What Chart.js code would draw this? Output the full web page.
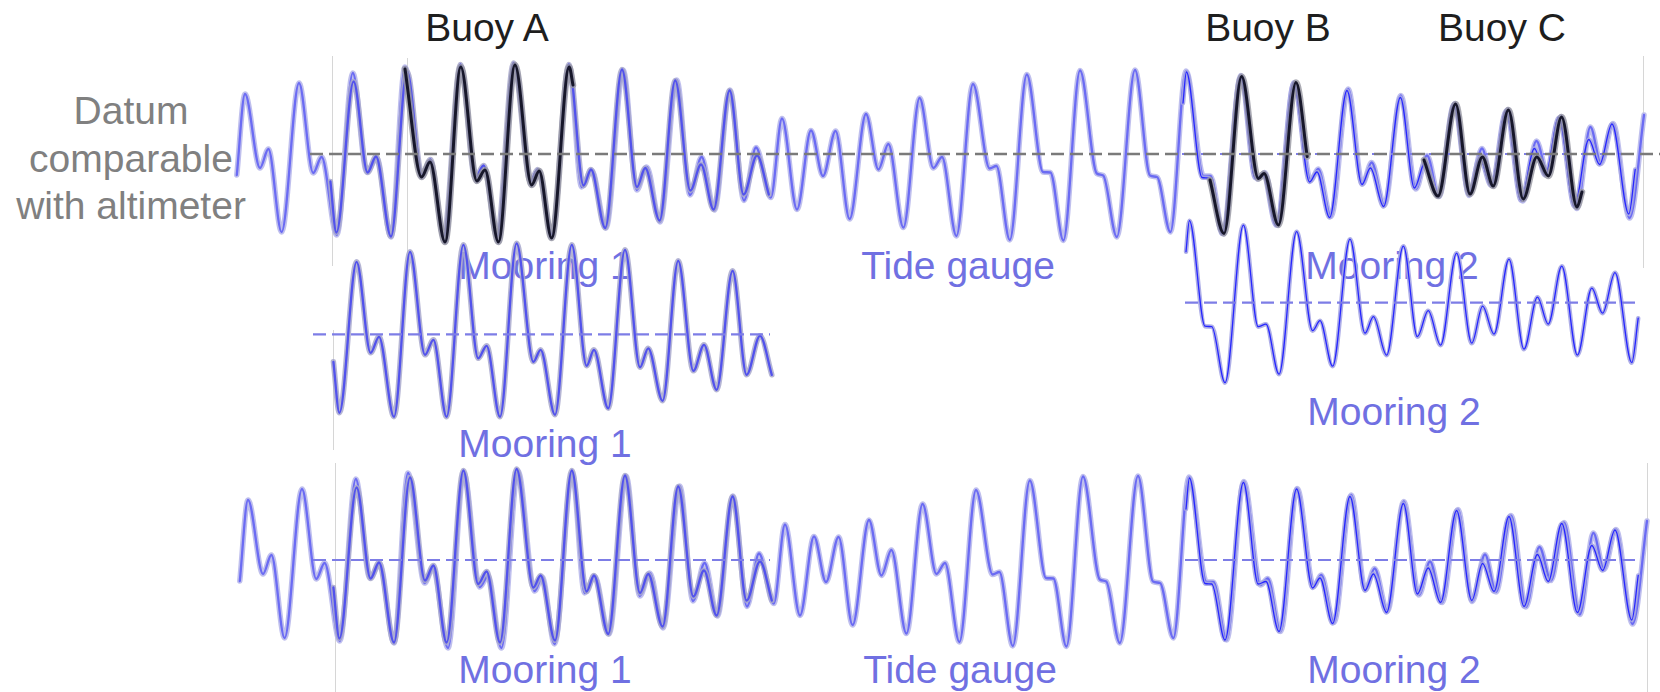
<!DOCTYPE html>
<html>
<head>
<meta charset="utf-8">
<script src="https://cdn.jsdelivr.net/npm/chart.js@4.4.1/dist/chart.umd.min.js"></script>
<style>
  html, body { margin: 0; padding: 0; background: #ffffff; }
  #wrap { position: relative; width: 1660px; height: 692px; overflow: hidden;
          font-family: "Liberation Sans", Arial, Helvetica, sans-serif; }
  #plot { position: absolute; left: 0; top: 0; z-index: 2; }
  .lbl { position: absolute; font-size: 39px; line-height: 39px; white-space: nowrap;
         transform: translateX(-50%); z-index: 1; }
  .buoy { color: #1e1e1e; }
  .inst { color: #7070e2; }
  .datum { color: #808080; text-align: center; line-height: 47.5px; }
  .edge { position: absolute; width: 1px; background: #d6d6d6; z-index: 0; }
</style>
</head>
<body>
<div id="wrap">
  <div class="edge" style="left:332px;top:56px;height:210px"></div>
  <div class="edge" style="left:407px;top:58px;height:200px"></div>
  <div class="edge" style="left:333px;top:330px;height:120px"></div>
  <div class="edge" style="left:1643px;top:56px;height:212px"></div>
  <div class="edge" style="left:335px;top:463px;height:229px"></div>
  <div class="edge" style="left:1647px;top:463px;height:229px"></div>

  <div class="lbl buoy" style="left:487px;top:8px">Buoy A</div>
  <div class="lbl buoy" style="left:1268px;top:8px">Buoy B</div>
  <div class="lbl buoy" style="left:1502px;top:8px">Buoy C</div>
  <div class="lbl datum" style="left:131px;top:87px">Datum<br>comparable<br>with altimeter</div>

  <div class="lbl inst" style="left:545px;top:246px">Mooring 1</div>
  <div class="lbl inst" style="left:958px;top:246px">Tide gauge</div>
  <div class="lbl inst" style="left:1392px;top:246px">Mooring 2</div>

  <div class="lbl inst" style="left:545px;top:424px">Mooring 1</div>
  <div class="lbl inst" style="left:1394px;top:392px">Mooring 2</div>

  <div class="lbl inst" style="left:545px;top:650px">Mooring 1</div>
  <div class="lbl inst" style="left:960px;top:650px">Tide gauge</div>
  <div class="lbl inst" style="left:1394px;top:650px">Mooring 2</div>

  <canvas id="plot" width="1660" height="692"></canvas>
</div>
<script>
// Sea level records: [time (h), level (m)] at turning points of the tide curve.
const tideGauge = [
  [0.2,-0.42],[2.25,1.20],[6.0,-0.28],[8.1,0.10],[11.4,-1.56],[15.75,1.42],[19.3,-0.38],[21.4,-0.06],
  [25.2,-1.62],[29.2,1.62],[32.7,-0.36],[35.2,-0.08],[38.75,-1.66],[42.25,1.74],[46.4,-0.46],[48.5,-0.16],
  [52.25,-1.76],[56.2,1.74],[60.2,-0.54],[62.25,-0.32],[65.6,-1.76],[69.75,1.78],[73.9,-0.62],[75.8,-0.34],
  [78.9,-1.68],[83.3,1.74],[86.4,-0.66],[88.9,-0.32],[92.5,-1.48],[96.8,1.68],[100.2,-0.72],[102.7,-0.26],
  [106.0,-1.36],[110.2,1.48],[113.5,-0.82],[116.4,-0.06],[119.6,-1.12],[123.5,1.28],[127.0,-0.93],[130.0,0.13],
  [133.7,-0.87],[136.5,0.71],[140.25,-1.11],[143.75,0.47],[146.75,-0.44],[149.9,0.46],[153.4,-1.30],[157.5,0.80],
  [160.6,-0.31],[163.1,0.20],[166.85,-1.47],[170.9,1.12],[174.35,-0.28],[176.5,-0.06],[180.1,-1.64],[184.25,1.40],
  [188.4,-0.29],[190.1,-0.24],[193.45,-1.72],[197.7,1.59],[201.75,-0.36],[203.6,-0.37],[206.85,-1.73],[211.0,1.67],
  [215.2,-0.39],[216.8,-0.43],[220.2,-1.66],[224.75,1.68],[228.5,-0.43],[230.25,-0.46],[233.6,-1.56],[237.5,1.66],
  [241.9,-0.44],[243.6,-0.44],[246.9,-1.60],[251.2,1.57],[255.4,-0.50],[257.2,-0.37],[260.4,-1.43],[264.55,1.43],
  [268.7,-0.53],[270.55,-0.30],[273.75,-1.25],[278.05,1.30],[281.6,-0.60],[283.9,-0.17],[287.1,-1.02],[291.2,1.17],
  [295.0,-0.70],[297.75,-0.03],[300.75,-0.85],[304.75,1.01],[308.3,-0.83],[311.5,0.11],[314.25,-0.64],[318.0,0.89],
  [321.75,-0.94],[325.1,0.26],[328.0,-0.41],[331.25,0.75],[335.2,-1.09],[338.6,0.54],[341.25,-0.19],[344.25,0.61],
  [348.4,-1.28],[352.0,0.78]
];

const mooring1 = [
  [23.6,-0.55],[25.1,-1.57],[29.4,1.45],[32.9,-0.37],[35.0,-0.05],[38.75,-1.65],[42.75,1.65],[46.5,-0.41],
  [48.6,-0.11],[51.9,-1.65],[56.1,1.79],[59.8,-0.48],[61.9,-0.23],[65.25,-1.65],[69.4,1.82],[73.6,-0.55],
  [75.4,-0.31],[79.0,-1.61],[83.2,1.79],[86.9,-0.63],[88.75,-0.31],[92.3,-1.48],[96.5,1.69],[100.25,-0.66],
  [102.3,-0.28],[105.9,-1.33],[109.8,1.47],[113.6,-0.73],[116.25,-0.21],[119.4,-1.11],[123.4,1.27],[126.9,-0.81],
  [130.25,-0.03],[133.2,-0.81]
];

const mooring2 = [
  [236.75,1.02],[237.6,1.64],[241.5,-0.47],[243.2,-0.48],[246.5,-1.60],[251.1,1.55],[254.8,-0.48],[256.75,-0.43],
  [260.0,-1.43],[264.4,1.42],[268.4,-0.56],[270.25,-0.36],[273.4,-1.27],[277.75,1.27],[281.5,-0.61],[283.6,-0.28],
  [286.9,-1.05],[291.1,1.13],[294.6,-0.68],[297.3,-0.16],[300.4,-0.85],[304.4,0.99],[308.2,-0.81],[310.9,-0.07],
  [313.75,-0.63],[317.5,0.87],[321.25,-0.93],[324.6,0.11],[327.3,-0.43],[330.7,0.73],[334.6,-1.05],[338.2,0.29],
  [340.9,-0.21],[344.0,0.60],[348.2,-1.20],[349.8,-0.31]
];

const buoyA = [
  [42.25,1.70],[46.4,-0.46],[48.5,-0.16],[52.25,-1.76],[56.2,1.74],[60.2,-0.54],[62.25,-0.32],[65.6,-1.76],
  [69.75,1.78],[73.9,-0.62],[75.8,-0.34],[78.9,-1.68],[83.3,1.74],[84.25,1.38]
];

const buoyB = [
  [243.5,-0.52],[247.0,-1.59],[251.4,1.55],[255.6,-0.49],[257.0,-0.39],[260.6,-1.42],[265.0,1.43],[267.8,-0.05]
];

const buoyC = [
  [297.0,-0.12],[300.5,-0.84],[304.9,1.00],[308.5,-0.80],[311.6,-0.06],[314.3,-0.64],[318.1,0.88],[321.8,-0.90],
  [325.2,-0.06],[328.1,-0.44],[331.4,0.74],[335.25,-1.06],[336.5,-0.76]
];

// Time spans (h) of the datum reference lines, drawn at level 0.
const altimeterDatumSpan = [18.5, 356];
const mooring1DatumSpan = [18.5, 132.75];
const mooring2DatumSpan = [236.5, 349.75];

const toPoints = rows => rows.map(([t, v]) => ({ x: t, y: v }));
const spanPoints = span => [{ x: span[0], y: 0 }, { x: span[1], y: 0 }];

const STYLE = {
  gauge:  { color: '#6b6bf3', width: 2.3, halo: 'rgba(188,188,236,0.95)', haloWidth: 5.5 },
  moor1:  { color: '#5252ec', width: 2.3, halo: 'rgba(168,168,205,0.85)', haloWidth: 5.5 },
  moor2:  { color: '#2626ff', width: 1.3, halo: 'rgba(165,165,228,0.9)', haloWidth: 4.5 },
  buoy:   { color: '#17172a', width: 3.0, halo: 'rgba(150,150,160,0.8)', haloWidth: 6.5 }
};

const layers = [];   // listed from bottom to top

function addWave(rows, style, xAxisID, yAxisID) {
  const data = toPoints(rows);
  const common = { data, xAxisID, yAxisID, pointRadius: 0, fill: false,
                   cubicInterpolationMode: 'monotone', borderJoinStyle: 'round', borderCapStyle: 'round' };
  layers.push(Object.assign({}, common, { borderColor: style.halo, borderWidth: style.haloWidth }));
  layers.push(Object.assign({}, common, { borderColor: style.color, borderWidth: style.width }));
}

function addDatum(span, color, width, xAxisID, yAxisID) {
  layers.push({ data: spanPoints(span), xAxisID, yAxisID, pointRadius: 0, fill: false, tension: 0,
                borderColor: color, borderWidth: width, borderDash: [13, 6] });
}

// Upper panel: everything referred to the altimeter datum
addWave(tideGauge, STYLE.gauge, 'x', 'yTop');
addWave(mooring1, STYLE.moor1, 'x', 'yTop');
addWave(mooring2, STYLE.moor2, 'x', 'yTop');
addWave(buoyA, STYLE.buoy, 'x', 'yTop');
addWave(buoyB, STYLE.buoy, 'x', 'yTop');
addWave(buoyC, STYLE.buoy, 'x', 'yTop');
addDatum(mooring1DatumSpan, '#7d7de6', 2, 'x', 'yTop');
addDatum(mooring2DatumSpan, '#7d7de6', 2, 'x', 'yTop');
addDatum(altimeterDatumSpan, '#7a7a7a', 2.6, 'x', 'yTop');

// Middle panel: moorings on their own datums
addWave(mooring1, STYLE.moor1, 'x2', 'yMid1');
addWave(mooring2, STYLE.moor2, 'x2', 'yMid2');
addDatum(mooring1DatumSpan, '#7d7de6', 2.2, 'x2', 'yMid1');
addDatum(mooring2DatumSpan, '#7d7de6', 2.2, 'x2', 'yMid2');

// Lower panel: moorings joined to the tide gauge
addWave(tideGauge, STYLE.gauge, 'x2', 'yBot');
addWave(mooring1, STYLE.moor1, 'x2', 'yBot');
addWave(mooring2, STYLE.moor2, 'x2', 'yBot');
addDatum(mooring1DatumSpan, '#7d7de6', 2.2, 'x2', 'yBot');
addDatum(mooring2DatumSpan, '#7d7de6', 2.2, 'x2', 'yBot');

// lower `order` is painted last (on top)
layers.forEach((ds, i) => { ds.order = layers.length - i; });

const hidden = { display: false, grid: { display: false } };

new Chart(document.getElementById('plot'), {
  type: 'line',
  data: { datasets: layers },
  options: {
    responsive: false,
    animation: false,
    devicePixelRatio: 1,
    layout: { padding: 0 },
    plugins: { legend: { display: false }, tooltip: { enabled: false }, title: { display: false } },
    events: [],
    scales: {
      x:     Object.assign({ type: 'linear', min: -59, max: 356 }, hidden),
      x2:    Object.assign({ type: 'linear', min: -59.75, max: 355.25 }, hidden),
      yTop:  Object.assign({ type: 'linear', min: -10.76, max: 3.08 }, hidden),
      yMid1: Object.assign({ type: 'linear', min: -7.154, max: 6.686 }, hidden),
      yMid2: Object.assign({ type: 'linear', min: -7.786, max: 6.054 }, hidden),
      yBot:  Object.assign({ type: 'linear', min: -2.64, max: 11.2 }, hidden)
    }
  }
});
</script>
</body>
</html>
